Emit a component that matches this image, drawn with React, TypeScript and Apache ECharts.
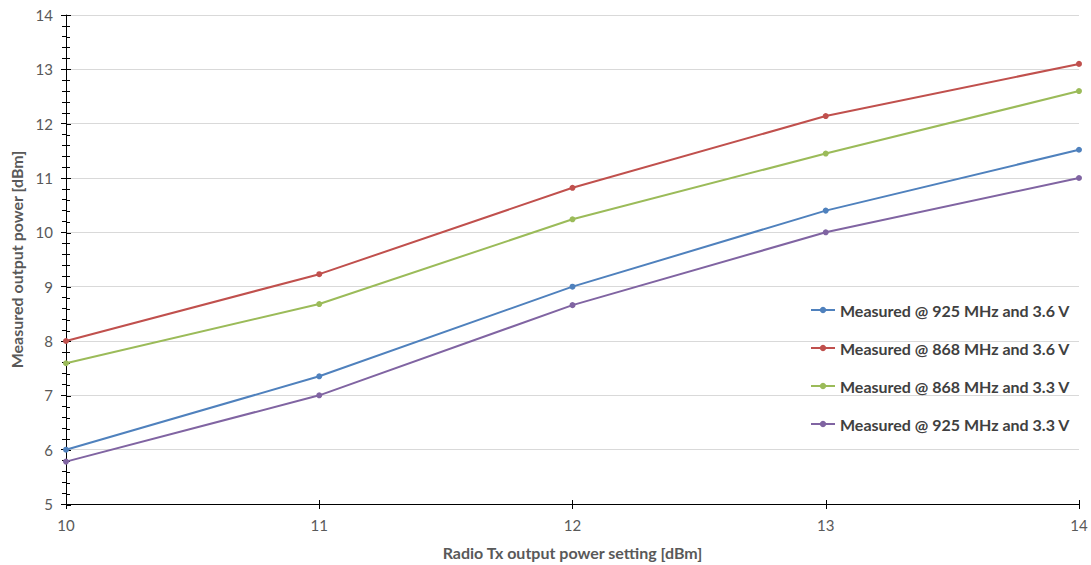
import React, { useEffect, useRef } from "react";
import * as echarts from "echarts";

const xValues = [10, 11, 12, 13, 14];
const s925_36 = [6.0, 7.35, 9.0, 10.4, 11.52];
const s868_36 = [8.0, 9.23, 10.82, 12.14, 13.1];
const s868_33 = [7.59, 8.68, 10.24, 11.45, 12.6];
const s925_33 = [5.78, 7.0, 8.66, 10.0, 11.0];
const seriesNames = [
  "Measured @ 925 MHz and 3.6 V",
  "Measured @ 868 MHz and 3.6 V",
  "Measured @ 868 MHz and 3.3 V",
  "Measured @ 925 MHz and 3.3 V",
];
const seriesData = [s925_36, s868_36, s868_33, s925_33];
const colors = ["#4F81BD", "#C0504D", "#9BBB59", "#8064A2"];

const FONT = "Lato, 'Open Sans', sans-serif";

export default function App() {
  const ref = useRef<HTMLDivElement>(null);
  useEffect(() => {
    const chart = echarts.init(ref.current!, undefined, { renderer: "svg" });
    const gridBox = { left: 66, right: 12, top: 15, bottom: 60 };
    chart.setOption({
      animation: false,
      backgroundColor: "#ffffff",
      grid: [
        { ...gridBox, containLabel: false },
        { ...gridBox, containLabel: false },
      ],
      legend: {
        orient: "vertical",
        left: 805,
        top: 297,
        itemGap: 22,
        itemWidth: 24,
        itemHeight: 8,
        textStyle: { fontFamily: FONT, fontSize: 16, fontWeight: "bold", color: "#404040" },
        data: seriesNames,
      },
      xAxis: [
        {
          type: "value",
          gridIndex: 0,
          min: 10,
          max: 14,
          interval: 1,
          name: "Radio Tx output power setting [dBm]",
          nameLocation: "middle",
          nameGap: 40,
          nameTextStyle: { fontFamily: FONT, fontSize: 16, fontWeight: "bold", color: "#595959" },
          axisLine: { lineStyle: { color: "#000000", width: 1 } },
          axisTick: { show: true, length: 5, lineStyle: { color: "#000000" } },
          axisLabel: { fontFamily: FONT, fontSize: 15, color: "#595959", margin: 13 },
          splitLine: { show: false },
        },
        {
          type: "value",
          gridIndex: 1,
          min: 10,
          max: 14,
          interval: 1,
          axisLine: { show: false },
          axisTick: { show: true, inside: true, length: 5, lineStyle: { color: "#000000" } },
          axisLabel: { show: false },
          splitLine: { show: false },
        },
      ],
      yAxis: [
        {
          type: "value",
          gridIndex: 0,
          min: 5,
          max: 14,
          interval: 1,
          name: "Measured output power [dBm]",
          nameLocation: "middle",
          nameGap: 41,
          nameTextStyle: { fontFamily: FONT, fontSize: 16, fontWeight: "bold", color: "#595959" },
          axisLine: { show: true, lineStyle: { color: "#000000", width: 1 } },
          axisTick: { show: true, length: 5, lineStyle: { color: "#000000" } },
          minorTick: { show: true, splitNumber: 5, length: 4, lineStyle: { color: "#000000" } },
          axisLabel: { fontFamily: FONT, fontSize: 15, color: "#595959", margin: 13 },
          splitLine: { show: true, lineStyle: { color: "#D9D9D9", width: 1 } },
        },
        {
          type: "value",
          gridIndex: 1,
          min: 5,
          max: 14,
          interval: 1,
          axisLine: { show: false },
          axisTick: { show: true, inside: true, length: 5, lineStyle: { color: "#000000" } },
          minorTick: { show: true, splitNumber: 5, length: 4, lineStyle: { color: "#000000" } },
          axisLabel: { show: false },
          splitLine: { show: false },
        },
      ],
      series: seriesNames.map((name, i) => ({
        name,
        type: "line",
        xAxisIndex: 0,
        yAxisIndex: 0,
        data: xValues.map((x, j) => [x, seriesData[i][j]]),
        color: colors[i],
        symbol: "circle",
        symbolSize: 6,
        lineStyle: { width: 2, color: colors[i] },
        itemStyle: { color: colors[i] },
      })),
    });
    return () => chart.dispose();
  }, []);
  return <div ref={ref} style={{ width: 1091, height: 565, position: "absolute", left: 0, top: 0 }} />;
}
